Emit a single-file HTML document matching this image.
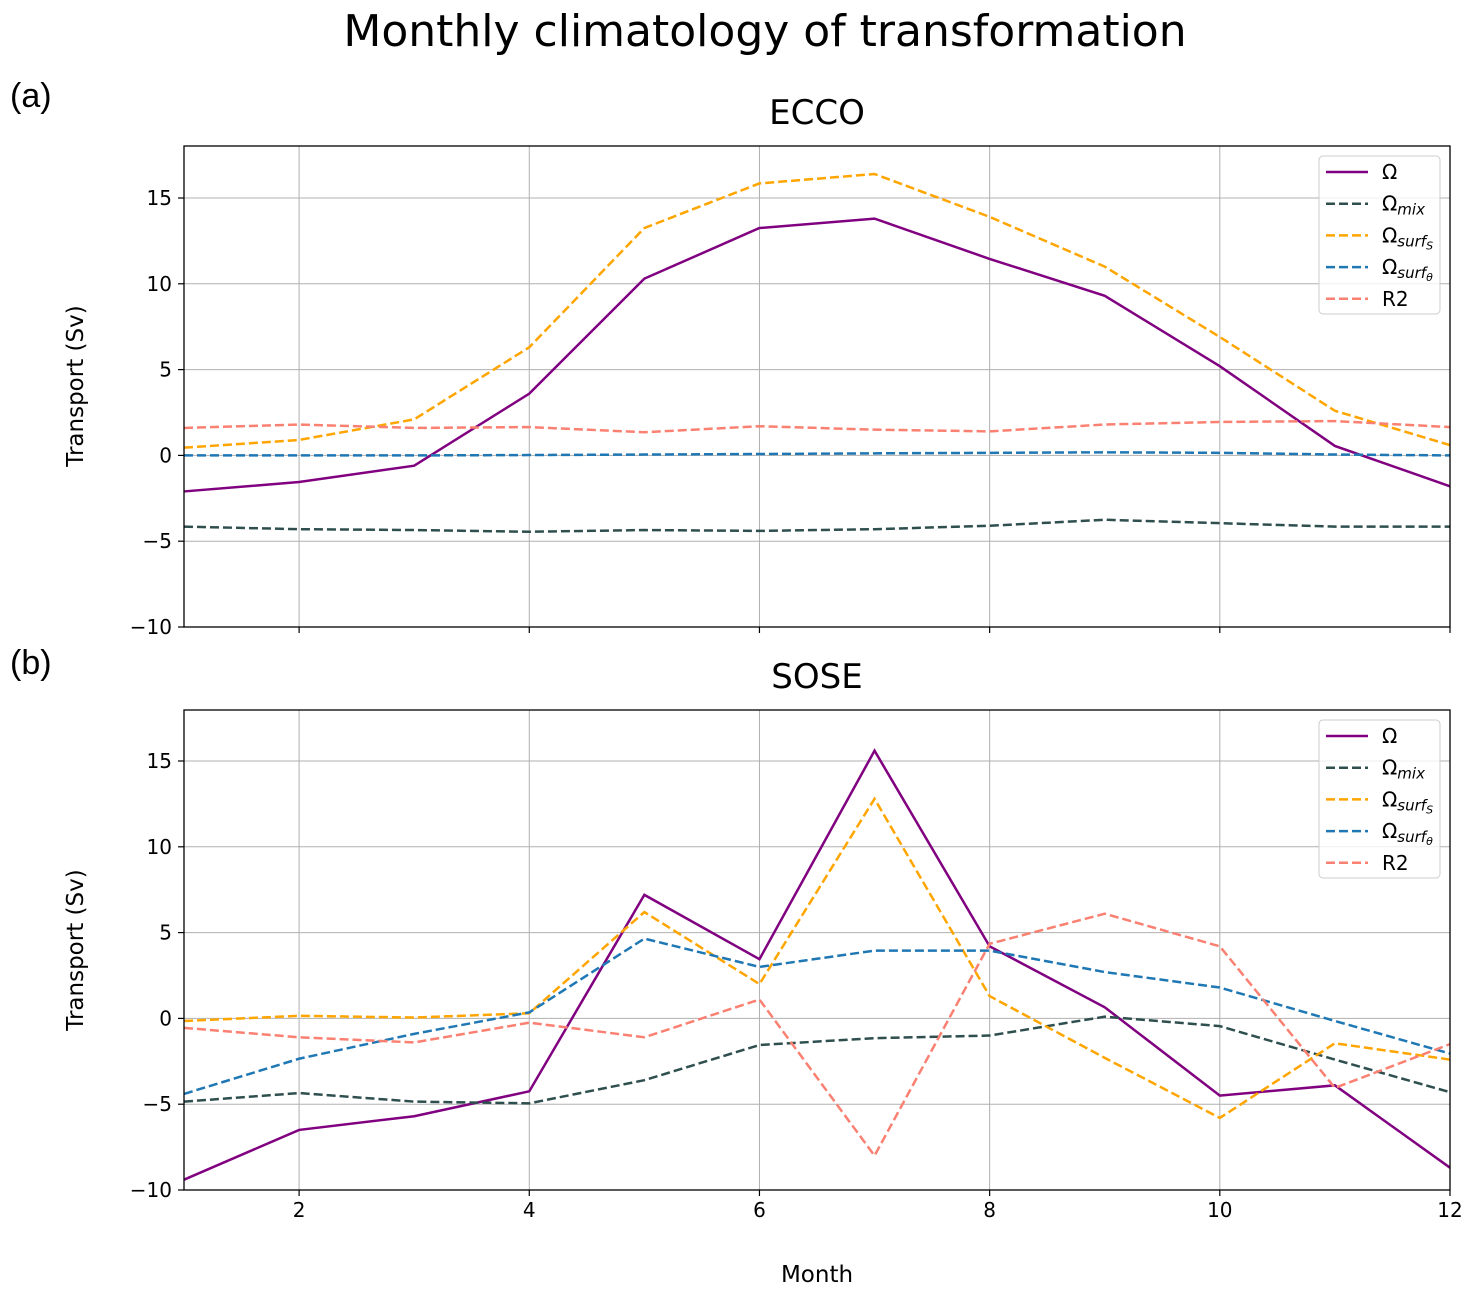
<!DOCTYPE html>
<html><head><meta charset="utf-8"><style>
body{margin:0;background:#fff}
svg text{font-family:"DejaVu Sans","Liberation Sans",sans-serif}
</style></head><body>
<svg id="s" width="1475" height="1296" xmlns="http://www.w3.org/2000/svg">
<text x="765" y="46" font-size="44" text-anchor="middle">Monthly climatology of transformation</text>
<text x="10" y="107" font-size="34" style="font-family:'Liberation Sans',sans-serif">(a)</text>
<text x="10" y="674" font-size="34" style="font-family:'Liberation Sans',sans-serif">(b)</text>
<text x="817" y="124" font-size="34" text-anchor="middle">ECCO</text>
<text x="817" y="688" font-size="34" text-anchor="middle">SOSE</text>
<text x="817" y="1282" font-size="23" text-anchor="middle">Month</text>
<text transform="translate(83,386) rotate(-90)" font-size="23" text-anchor="middle">Transport (Sv)</text>
<text transform="translate(83,950) rotate(-90)" font-size="23" text-anchor="middle">Transport (Sv)</text>
<g id="g"></g>
</svg>
<script>
var g=document.getElementById('g'),NS='http://www.w3.org/2000/svg';
function el(n,a,t){var e=document.createElementNS(NS,n);for(var k in a)e.setAttribute(k,a[k]);if(t)e.textContent=t;g.appendChild(e);return e;}
var X0=184,X1=1450,pm=(X1-X0)/11,pu=17.16;
function X(m){return X0+(m-1)*pm;}
var C=['#800080','#2f4f4f','#ffa500','#1f77b4','#fa8072'];
var data=[[
[-2.1,-1.55,-0.6,3.6,10.3,13.25,13.8,11.45,9.3,5.2,0.55,-1.8],
[-4.15,-4.3,-4.35,-4.45,-4.35,-4.4,-4.3,-4.1,-3.75,-3.95,-4.15,-4.15],
[0.45,0.9,2.1,6.3,13.25,15.85,16.4,13.9,11.0,6.9,2.6,0.6],
[0,0,0,0.02,0.05,0.08,0.12,0.15,0.18,0.15,0.05,0],
[1.6,1.8,1.6,1.65,1.35,1.7,1.5,1.4,1.8,1.95,2.0,1.65]],[
[-9.4,-6.5,-5.7,-4.25,7.2,3.45,15.6,4.2,0.65,-4.5,-3.9,-8.7],
[-4.85,-4.35,-4.85,-4.95,-3.6,-1.55,-1.15,-1.0,0.1,-0.45,-2.4,-4.3],
[-0.15,0.15,0.05,0.3,6.2,2.0,12.8,1.3,-2.3,-5.8,-1.45,-2.4],
[-4.4,-2.35,-0.9,0.35,4.65,3.0,3.95,3.95,2.7,1.8,-0.15,-2.05],
[-0.55,-1.1,-1.4,-0.25,-1.1,1.1,-8.0,4.35,6.1,4.2,-4.05,-1.5]]];
var labs=[['Ω',''],['Ω','mix'],['Ω','surf','S'],['Ω','surf','θ'],['R2','']];
[[146,627],[710,1190]].forEach(function(ab,p){
 var top=ab[0],bot=ab[1];function Y(v){return bot-(v+10)*pu;}
 for(var m=2;m<=12;m+=2){el('line',{x1:X(m),x2:X(m),y1:top,y2:bot,stroke:'#b0b0b0','stroke-width':1});
  el('line',{x1:X(m),x2:X(m),y1:bot,y2:bot+6,stroke:'#000','stroke-width':1.2});
  if(p==1)el('text',{x:X(m),y:bot+27,'font-size':20,'text-anchor':'middle'},String(m));}
 for(var v=-10;v<=15;v+=5){el('line',{x1:X0,x2:X1,y1:Y(v),y2:Y(v),stroke:'#b0b0b0','stroke-width':1});
  el('line',{x1:X0-6,x2:X0,y1:Y(v),y2:Y(v),stroke:'#000','stroke-width':1.2});
  el('text',{x:X0-12,y:Y(v)+7,'font-size':20,'text-anchor':'end'},(v<0?'−'+(-v):String(v)));}
 data[p].forEach(function(s,i){var pts=s.map(function(v,j){return X(j+1)+','+Y(v)}).join(' ');
  var a={points:pts,fill:'none',stroke:C[i],'stroke-width':2.5};if(i>0)a['stroke-dasharray']='9,4';el('polyline',a);});
 el('rect',{x:X0,y:top,width:X1-X0,height:bot-top,fill:'none',stroke:'#000','stroke-width':1.3});
 var ly=top+10;el('rect',{x:1319,y:ly,width:121,height:158,rx:4,fill:'#fff','fill-opacity':0.8,stroke:'#ccc'});
 for(var i=0;i<5;i++){var yy=ly+16+i*31.7;var a={x1:1326,x2:1368,y1:yy,y2:yy,stroke:C[i],'stroke-width':2.5};if(i>0)a['stroke-dasharray']='9,4';el('line',a);
  var t=el('text',{x:1382,y:yy+7,'font-size':20});t.appendChild(document.createTextNode(labs[i][0]));
  if(labs[i][1]){var sp=document.createElementNS(NS,'tspan');sp.setAttribute('font-size',15);sp.setAttribute('font-style','italic');sp.setAttribute('dy',4);sp.textContent=labs[i][1];t.appendChild(sp);}
  if(labs[i][2]){var sp2=document.createElementNS(NS,'tspan');sp2.setAttribute('font-size',11);sp2.setAttribute('font-style','italic');sp2.setAttribute('dy',3);sp2.textContent=labs[i][2];t.appendChild(sp2);}
 }
});
</script>
</body></html>
